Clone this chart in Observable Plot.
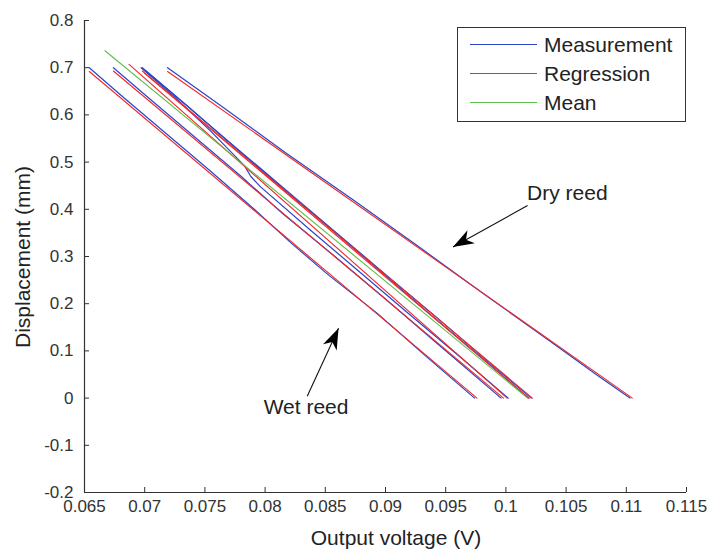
<!DOCTYPE html>
<html>
<head>
<meta charset="utf-8">
<script src="https://cdn.jsdelivr.net/npm/d3@7"></script>
<script src="https://cdn.jsdelivr.net/npm/@observablehq/plot@0.6"></script>
<style>
  body { margin: 0; background: #fff; }
  #wrap { position: relative; width: 710px; height: 554px; font-family: "Liberation Sans", Arial, sans-serif; color: #222; }
  #chart svg { display: block; }
  .lbl { position: absolute; font-size: 21px; white-space: nowrap; line-height: 1; }
  #xlabel { left: 396px; top: 537px; transform: translate(-50%, -50%); }
  #ylabel { left: 22px; top: 257px; transform: translate(-50%, -50%) rotate(-90deg); }
  #legend { position: absolute; left: 457px; top: 27px; width: 229px; height: 95px; border: 1px solid #333; background: #fff; box-sizing: border-box; }
  .entry { position: absolute; left: 0; height: 24px; width: 100%; }
  .swatch { position: absolute; left: 12px; width: 67px; top: 11px; border-top: 1.5px solid; }
  .etext { position: absolute; left: 86px; top: 0; font-size: 21px; line-height: 24px; white-space: nowrap; }
</style>
</head>
<body>
<div id="wrap">
  <div id="chart"></div>
  <div id="xlabel" class="lbl">Output voltage (V)</div>
  <div id="ylabel" class="lbl">Displacement (mm)</div>
  <div id="legend"></div>
</div>
<script>
// ---- Axis ticks ----
const xTicks = [0.065, 0.07, 0.075, 0.08, 0.085, 0.09, 0.095, 0.1, 0.105, 0.11, 0.115];
const xTickLabels = ["0.065", "0.07", "0.075", "0.08", "0.085", "0.09", "0.095", "0.1", "0.105", "0.11", "0.115"];
const yTicks = [-0.2, -0.1, 0, 0.1, 0.2, 0.3, 0.4, 0.5, 0.6, 0.7, 0.8];
const yTickLabels = ["-0.2", "-0.1", "0", "0.1", "0.2", "0.3", "0.4", "0.5", "0.6", "0.7", "0.8"];

// ---- Series names / colours ----
const seriesNames = ["Measurement", "Regression", "Mean"];
const seriesColors = ["#2a46c8", "#f02828", "#5cc04c"];

// ---- Measurements [voltage V, displacement mm] ----
const measurement1 = [[0.0654, 0.700], [0.0681, 0.640], [0.0718, 0.560], [0.0755, 0.480], [0.0791, 0.400], [0.0821, 0.330], [0.0853, 0.260], [0.0893, 0.180], [0.0933, 0.090], [0.0974, 0.000]];
const measurement2 = [[0.0674, 0.700], [0.0706, 0.630], [0.0743, 0.550], [0.0780, 0.470], [0.0815, 0.390], [0.0858, 0.300], [0.0900, 0.210], [0.0941, 0.120], [0.0996, 0.000]];
const measurement3 = [[0.0697, 0.700], [0.0724, 0.640], [0.0755, 0.565], [0.0783, 0.492], [0.0788, 0.470], [0.0796, 0.448], [0.0838, 0.355], [0.0881, 0.262], [0.0922, 0.173], [0.0963, 0.085], [0.1002, 0.000]];
const measurement4 = [[0.0698, 0.700], [0.0721, 0.650], [0.0753, 0.580], [0.0790, 0.500], [0.0827, 0.420], [0.0864, 0.340], [0.0901, 0.260], [0.0943, 0.170], [0.0984, 0.080], [0.1021, 0.000]];
const measurement5 = [[0.0701, 0.693], [0.0735, 0.620], [0.0771, 0.540], [0.0812, 0.450], [0.0854, 0.360], [0.0895, 0.270], [0.0936, 0.180], [0.0978, 0.090], [0.1019, 0.000]];
const measurement6 = [[0.0719, 0.700], [0.0763, 0.620], [0.0817, 0.520], [0.0873, 0.420], [0.0928, 0.320], [0.0982, 0.220], [0.1037, 0.120], [0.1075, 0.050], [0.1103, 0.000]];

// ---- Linear regressions ----
const regression1 = [[0.0654, 0.692], [0.0976, 0.000]];
const regression2 = [[0.0674, 0.693], [0.0998, 0.000]];
const regression3 = [[0.0687, 0.707], [0.1001, 0.000]];
const regression4 = [[0.0698, 0.693], [0.1022, 0.000]];
const regression5 = [[0.0700, 0.688], [0.1019, 0.000]];
const regression6 = [[0.0719, 0.692], [0.1105, 0.000]];

// ---- Mean ----
const meanLine = [[0.0667, 0.736], [0.1018, 0.000]];

// ---- Annotations ----
const annotationTexts = ["Dry reed", "Wet reed"];
const annotationX = [0.1051, 0.0834];
const annotationY = [0.434, -0.019];
const arrowFromX = [0.1018, 0.0835];
const arrowFromY = [0.408, 0.004];
const arrowToX = [0.0956, 0.0861];
const arrowToY = [0.320, 0.148];
const arrowAngle = [240.4, 24.5];

// ---- Build tables ----
const toRows = (sets, kind) => sets.flatMap((pts, i) => pts.map(([x, y]) => ({x, y, kind, key: kind + i})));
const measRows = toRows([measurement1, measurement2, measurement3, measurement4, measurement5, measurement6], seriesNames[0]);
const regRows = toRows([regression1, regression2, regression3, regression4, regression5, regression6], seriesNames[1]);
const meanRows = toRows([meanLine], seriesNames[2]);
const annotations = annotationTexts.map((t, i) => ({text: t, x: annotationX[i], y: annotationY[i]}));
const arrows = arrowFromX.map((_, i) => ({x1: arrowFromX[i], y1: arrowFromY[i], x2: arrowToX[i], y2: arrowToY[i], angle: arrowAngle[i]}));

const xLabelMap = new Map(xTicks.map((t, i) => [t, xTickLabels[i]]));
const yLabelMap = new Map(yTicks.map((t, i) => [t, yTickLabels[i]]));

// notched arrow head, tip at origin, pointing up
const arrowHead = {
  draw(context) {
    context.moveTo(0, 0);
    context.lineTo(7.5, 21);
    context.lineTo(0, 15);
    context.lineTo(-7.5, 21);
    context.closePath();
  }
};

const chart = Plot.plot({
  width: 710,
  height: 554,
  marginLeft: 84,
  marginRight: 24,
  marginTop: 20,
  marginBottom: 62,
  style: {fontFamily: '"Liberation Sans", Arial, sans-serif', background: "#fff"},
  x: {domain: [xTicks[0], xTicks[xTicks.length - 1]]},
  y: {domain: [yTicks[0], yTicks[yTicks.length - 1]]},
  color: {domain: seriesNames, range: seriesColors},
  marks: [
    Plot.line(measRows, {x: "x", y: "y", z: "key", stroke: "kind", strokeWidth: 1.2}),
    Plot.line(regRows, {x: "x", y: "y", z: "key", stroke: "kind", strokeWidth: 1.1}),
    Plot.line(meanRows, {x: "x", y: "y", z: "key", stroke: "kind", strokeWidth: 1.1}),
    Plot.ruleX([xTicks[0]], {stroke: "#333", strokeWidth: 1.2}),
    Plot.ruleY([yTicks[0]], {stroke: "#333", strokeWidth: 1.2}),
    Plot.axisX({ticks: xTicks, tickFormat: d => xLabelMap.get(d), tickSize: -5, tickPadding: 12, fontSize: 17, color: "#333", label: null}),
    Plot.axisY({ticks: yTicks, tickFormat: d => yLabelMap.get(d), tickSize: -5, tickPadding: 16, fontSize: 17, color: "#333", label: null}),
    Plot.link(arrows, {x1: "x1", y1: "y1", x2: "x2", y2: "y2", stroke: "#111", strokeWidth: 1.1}),
    Plot.dot(arrows, {x: "x2", y: "y2", symbol: arrowHead, r: 10, rotate: "angle", fill: "#000", stroke: "none"}),
    Plot.text(annotations, {x: "x", y: "y", text: "text", fontSize: 21, fill: "#222"})
  ]
});
document.getElementById("chart").appendChild(chart);

// Legend
const legend = document.getElementById("legend");
seriesNames.forEach((name, i) => {
  const e = document.createElement("div");
  e.className = "entry";
  e.style.top = (5 + i * 29) + "px";
  const s = document.createElement("div");
  s.className = "swatch";
  s.style.borderTopColor = seriesColors[i];
  const t = document.createElement("div");
  t.className = "etext";
  t.textContent = name;
  e.appendChild(s); e.appendChild(t);
  legend.appendChild(e);
});
</script>
</body>
</html>
